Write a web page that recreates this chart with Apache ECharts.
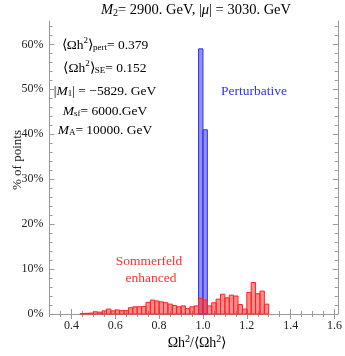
<!DOCTYPE html>
<html>
<head>
<meta charset="utf-8">
<script src="https://cdn.jsdelivr.net/npm/echarts@6/dist/echarts.min.js"></script>
<style>
  html, body { margin: 0; padding: 0; background: #fff; }
  #chart { width: 345px; height: 356px; }
</style>
</head>
<body>
<div id="chart"></div>
<script>
// 直方图数据：区间下界、上界、百分比
var redLo = [0.44, 0.46, 0.48, 0.50, 0.52, 0.54, 0.56, 0.58, 0.60, 0.62, 0.64, 0.66, 0.68, 0.70, 0.72,
  0.74, 0.76, 0.78, 0.80, 0.82, 0.84, 0.86, 0.88, 0.90, 0.92, 0.94, 0.96, 0.98, 1.00, 1.02,
  1.04, 1.06, 1.08, 1.10, 1.12, 1.14, 1.16, 1.18, 1.20, 1.22, 1.24, 1.26, 1.28];
var redHi = [0.46, 0.48, 0.50, 0.52, 0.54, 0.56, 0.58, 0.60, 0.62, 0.64, 0.66, 0.68, 0.70, 0.72, 0.74,
  0.76, 0.78, 0.80, 0.82, 0.84, 0.86, 0.88, 0.90, 0.92, 0.94, 0.96, 0.98, 1.00, 1.02, 1.04,
  1.06, 1.08, 1.10, 1.12, 1.14, 1.16, 1.18, 1.20, 1.22, 1.24, 1.26, 1.28, 1.30];
var redPct = [0.1, 0.15, 0.2, 0.5, 0.4, 0.7, 1.1, 0.7, 0.9, 0.75, 0.75, 1.4, 1.6, 1.6, 1.7,
  2.6, 3.1, 2.9, 2.7, 2.5, 2.2, 1.9, 1.6, 1.8, 1.2, 1.6, 1.8, 3.5, 3.1, 1.8,
  2.5, 3.3, 4.4, 3.6, 4.2, 4.0, 2.1, 1.1, 4.8, 7.0, 4.5, 5.1, 2.2];

var blueLo = [0.98, 1.00];
var blueHi = [1.00, 1.02];
var bluePct = [59.0, 41.0];

// 刻度
var xMajor = [0.4, 0.6, 0.8, 1.0, 1.2, 1.4, 1.6];
var xMinor = [0.3, 0.35, 0.45, 0.5, 0.55, 0.65, 0.7, 0.75, 0.85, 0.9, 0.95, 1.05, 1.1, 1.15,
  1.25, 1.3, 1.35, 1.45, 1.5, 1.55];
var yMajor = [0, 10, 20, 30, 40, 50, 60];
var yMinor = [2, 4, 6, 8, 12, 14, 16, 18, 22, 24, 26, 28, 32, 34, 36, 38, 42, 44, 46, 48,
  52, 54, 56, 58, 62, 64];

var FONT = 'Liberation Serif';
var frameColor = '#999';

var chart = echarts.init(document.getElementById('chart'));

function hist(lo, hi, pct, fill, stroke) {
  return {
    type: 'custom',
    xAxisIndex: 0,
    yAxisIndex: 0,
    data: lo.map(function (v, i) { return [v, hi[i], pct[i]]; }),
    renderItem: function (params, api) {
      var p0 = api.coord([api.value(0), 0]);
      var p1 = api.coord([api.value(1), api.value(2)]);
      return {
        type: 'rect',
        shape: { x: p0[0], y: p1[1], width: p1[0] - p0[0], height: p0[1] - p1[1] },
        style: { fill: fill, stroke: stroke, lineWidth: 1 }
      };
    }
  };
}

function xAx(pos, ticks, len, showLine, labels) {
  return {
    type: 'value', min: 0.3, max: 1.615, position: pos,
    axisLine: { show: showLine, lineStyle: { color: frameColor, width: 1 } },
    axisTick: { show: true, inside: true, length: len, customValues: ticks,
      lineStyle: { color: frameColor } },
    axisLabel: labels ? {
      show: true, customValues: ticks, margin: 6,
      fontFamily: FONT, fontSize: 12, color: '#222',
      formatter: function (v) { return v.toFixed(1); }
    } : { show: false },
    splitLine: { show: false }
  };
}

function yAx(pos, ticks, len, showLine, labels) {
  return {
    type: 'value', min: 0, max: 65.2, position: pos,
    axisLine: { show: showLine, lineStyle: { color: frameColor, width: 1 } },
    axisTick: { show: true, inside: true, length: len, customValues: ticks,
      lineStyle: { color: frameColor } },
    axisLabel: labels ? {
      show: true, customValues: ticks, margin: 6,
      fontFamily: FONT, fontSize: 12, color: '#222',
      formatter: function (v) { return v + '%'; }
    } : { show: false },
    splitLine: { show: false }
  };
}

function label(x, y, text, fontSize) {
  var fs = fontSize || 13.5;
  var sfs = Math.round(fs * 0.68);
  var r = {
    n: { fontFamily: FONT, fontSize: fs, color: '#222' },
    i: { fontFamily: FONT, fontSize: fs, color: '#222', fontStyle: 'italic' },
    sup: { fontFamily: FONT, fontSize: sfs, color: '#222', padding: [0, 0, 8, 0] },
    sub: { fontFamily: FONT, fontSize: sfs, color: '#222', padding: [6, 0, 0, 0] }
  };
  return {
    type: 'text', x: x, y: y,
    style: { text: text, rich: r, align: 'center', verticalAlign: 'middle' }
  };
}

option = {
  animation: false,
  grid: { left: 49.5, right: 4, top: 21, bottom: 42 },
  xAxis: [
    xAx('bottom', xMajor, 5, true, true),
    xAx('bottom', xMinor, 3, false, false),
    xAx('top', xMajor, 5, true, false),
    xAx('top', xMinor, 3, false, false)
  ],
  yAxis: [
    yAx('left', yMajor, 5, true, true),
    yAx('left', yMinor, 3, false, false),
    yAx('right', yMajor, 5, true, false),
    yAx('right', yMinor, 3, false, false)
  ],
  series: [
    hist(blueLo, blueHi, bluePct, 'rgba(70,70,245,0.6)', '#3030f0'),
    hist(redLo, redHi, redPct, 'rgba(255,50,50,0.55)', '#ff2222')
  ],
  graphic: [
    label(196, 10, '{i|M}{sub|2}{n|= 2900. GeV, |}{i|μ}{n|| = 3030. GeV}', 14.5),
    label(105, 45, '{n|⟨Ωh}{sup|2}{n|⟩}{sub|pert}{n|= 0.379}'),
    label(105, 68, '{n|⟨Ωh}{sup|2}{n|⟩}{sub|SE}{n|= 0.152}'),
    label(105, 91, '{n||}{i|M}{sub|1}{n|| = −5829. GeV}'),
    label(105, 111, '{i|M}{sub|sf}{n|= 6000.GeV}'),
    label(105, 130, '{i|M}{sub|A}{n|= 10000. GeV}'),
    {
      type: 'text', x: 254, y: 91,
      style: { text: 'Perturbative', fontFamily: FONT, fontSize: 13.5, fill: '#2f2fff',
        align: 'center', verticalAlign: 'middle' }
    },
    {
      type: 'text', x: 149, y: 261,
      style: { text: 'Sommerfeld', fontFamily: FONT, fontSize: 13.5, fill: '#ff3030',
        align: 'center', verticalAlign: 'middle' }
    },
    {
      type: 'text', x: 151, y: 278,
      style: { text: 'enhanced', fontFamily: FONT, fontSize: 13.5, fill: '#ff3030',
        align: 'center', verticalAlign: 'middle' }
    },
    label(197, 343, '{n|Ωh}{sup|2}{n|/⟨Ωh}{sup|2}{n|⟩}', 14),
    {
      type: 'text', x: 18, y: 160, rotation: Math.PI / 2,
      style: { text: '% of points', fontFamily: FONT, fontSize: 13, fill: '#222',
        align: 'center', verticalAlign: 'middle' }
    }
  ]
};

chart.setOption(option);
</script>
</body>
</html>
